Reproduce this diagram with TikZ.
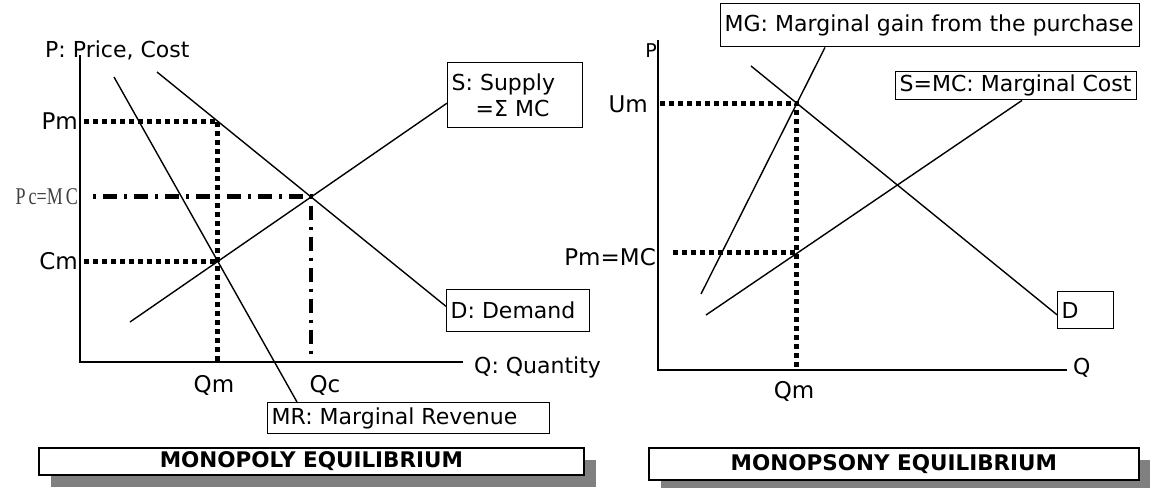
\documentclass[tikz,border=0pt]{standalone}
\usepackage{fontspec}
\setmainfont{DejaVu Sans}
\newfontfamily\narrowserif[FakeStretch=0.75]{Liberation Serif}
\usetikzlibrary{calc,shadows}
\begin{document}
\begin{tikzpicture}[x=1pt,y=-1pt,
  curve/.style={line width=1.4pt},
  axisline/.style={line width=1.6pt},
  dotline/.style={line width=5pt, dash pattern=on 5pt off 4pt},
  dashdotline/.style={line width=4.5pt, dash pattern=on 3pt off 7pt on 14pt off 7pt},
  lbl/.style={font=\fontsize{22}{26}\selectfont, inner sep=0pt},
  ticklbl/.style={font=\fontsize{23}{27}\selectfont, inner sep=0pt},
  labelbox/.style={draw, line width=1.4pt, font=\fontsize{22}{26}\selectfont,
    inner xsep=4pt, inner ysep=0pt, anchor=north west, align=left},
  titlebox/.style={draw, line width=1.8pt, fill=white,
    font=\bfseries\fontsize{21.5}{25}\selectfont, inner sep=0pt, anchor=north west,
    drop shadow={shadow xshift=12pt, shadow yshift=-12pt, fill=black!50, opacity=1}},
]
\useasboundingbox (0,0) rectangle (1150,487);

% ================= LEFT: MONOPOLY =================
\coordinate (lO) at (80,362);
\coordinate (lYtop) at (80,55);
\coordinate (lXend) at (463,362);
\draw[axisline] (lYtop) -- (lO) -- (lXend);

\node[labelbox, minimum height=65pt] (sbox) at (447,62)
  {\makebox[127pt][l]{S: Supply}\\\makebox[127pt][l]{\hspace*{24pt}=Σ MC}};
\node[labelbox, minimum height=42pt] (dbox) at (446,289) {\makebox[135pt][l]{D: Demand}};
\node[labelbox, minimum height=31pt] (mrbox) at (267,402) {\makebox[274pt][l]{MR: Marginal Revenue}};

\coordinate (Em) at (217.7,121.1);
\coordinate (Cmpt) at (217.7,261.2);
\coordinate (Ec) at (310.9,196.6);

\draw[dotline] (84,121.1) -- (Em) -- (217.7,362);
\draw[dotline] (84,261.2) -- (Cmpt);
\draw[dashdotline] (93,196.6) -- (Ec) -- (310.9,362);

\coordinate (dTop) at (157,72);
\coordinate (mrTop) at (114,77);
\coordinate (sBot) at (130,322);
\draw[curve] (dTop) -- ($(dbox.north west)!0.4!(dbox.south west)$);
\draw[curve] (sBot) -- ($(sbox.north west)!0.62!(sbox.south west)$);
\draw[curve] (mrTop) -- ($(mrbox.north west)+(30,0)$);

\node[lbl, anchor=base west] (pLab) at (45,57) {P: Price, Cost};
\node[ticklbl, anchor=east] (pmLab) at (78,121) {Pm};
\node[ticklbl, anchor=east] (cmLab) at (78,261) {Cm};
\node[inner sep=0pt, anchor=east, text=black!75, font=\narrowserif\fontsize{24}{28}\selectfont] (pcLab) at (78,197) {P\hspace{3pt}c=M\hspace{3pt}C};
\node[ticklbl] (qmLab) at (214,385) {Qm};
\node[ticklbl] (qcLab) at (325,385) {Qc};
\node[lbl, anchor=west] (qLab) at (474,367) {Q: Quantity};

% ================= RIGHT: MONOPSONY =================
\coordinate (rO) at (658,370);
\coordinate (rYtop) at (658,40);
\coordinate (rXend) at (1067,370);
\draw[axisline] (rYtop) -- (rO) -- (rXend);

\node[labelbox, minimum height=43pt] (mgbox) at (720,3) {\makebox[411pt][l]{MG: Marginal gain from the purchase}};
\node[labelbox, minimum height=28pt] (smcbox) at (895,71) {\makebox[233pt][l]{S=MC: Marginal Cost}};
\node[labelbox, minimum height=37pt] (drbox) at (1057,291) {\makebox[48pt][l]{D}};

\coordinate (Um) at (796.8,103.1);
\coordinate (Pmr) at (796.8,252.9);
\draw[dotline] (660,103.1) -- (Um) -- (796.8,370);
\draw[dotline] (673,252.9) -- (Pmr);

\coordinate (mgBot) at (701,294);
\coordinate (drTop) at (751,66);
\coordinate (smcBot) at (706,315);
\draw[curve] (mgBot) -- ($(mgbox.south west)+(105,0)$);
\draw[curve] (drTop) -- ($(drbox.north west)!0.62!(drbox.south west)$);
\draw[curve] (smcBot) -- ($(smcbox.south west)+(127,0)$);

\node[inner sep=0pt, anchor=base, font=\fontsize{19}{22}\selectfont] (prLab) at (651,58) {P};
\node[ticklbl, anchor=east] (umLab) at (648,104) {Um};
\node[ticklbl, anchor=east] (pmmcLab) at (656,257) {Pm=MC};
\node[ticklbl] (qmrLab) at (794,391) {Qm};
\node[lbl, anchor=west] (qrLab) at (1073,368) {Q};

% ================= TITLES =================
\node[titlebox, minimum width=545pt, minimum height=27pt] (t1) at (38,447) {MONOPOLY EQUILIBRIUM};
\node[titlebox, minimum width=490pt, minimum height=32pt] (t2) at (648,447) {MONOPSONY EQUILIBRIUM};
\end{tikzpicture}
\end{document}
